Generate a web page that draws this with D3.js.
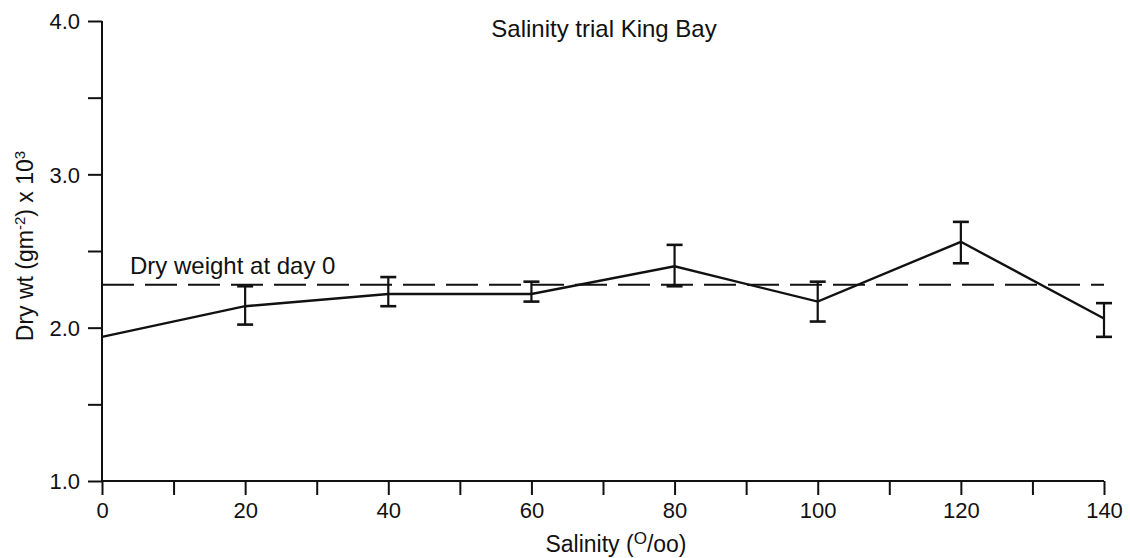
<!DOCTYPE html>
<html>
<script src="https://d3js.org/d3.v7.min.js"></script>
<body style="margin:0;background:white">
<div id="chart"></div>
<script>

// data
var salinity = [0, 20, 40, 60, 80, 100, 120, 140];
var dryWt   = [1.94, 2.14, 2.22, 2.22, 2.40, 2.17, 2.56, 2.06];
var errLow  = [null, 2.02, 2.14, 2.17, 2.27, 2.04, 2.42, 1.94];
var errHigh = [null, 2.27, 2.33, 2.30, 2.54, 2.30, 2.69, 2.16];
var dayZero = 2.28;
var xTicks = [0, 10, 20, 30, 40, 50, 60, 70, 80, 90, 100, 110, 120, 130, 140];
var xLabels = [0, 20, 40, 60, 80, 100, 120, 140];
var yTicks = [1.0, 1.5, 2.0, 2.5, 3.0, 3.5, 4.0];
var yLabels = [1.0, 2.0, 3.0, 4.0];

var width = 1130, height = 558;
var font = "'Liberation Sans', Arial, sans-serif";

var svg = d3.select("#chart").append("svg")
    .attr("width", width).attr("height", height)
    .style("display", "block");

var x = d3.scaleLinear().domain([0, 140]).range([102, 1104]);
var y = d3.scaleLinear().domain([1, 4]).range([481, 21]);

// axes
var xAxis = d3.axisBottom(x).tickValues(xTicks).tickSize(14)
    .tickFormat(function(d) { return xLabels.indexOf(d) >= 0 ? d : ""; });
var gx = svg.append("g").attr("transform", "translate(0," + y(1) + ")").call(xAxis);
gx.select(".domain").attr("stroke-width", 2).attr("d", "M" + x(0) + ",0H" + x(140));

var yAxis = d3.axisLeft(y).tickValues(yTicks).tickSize(14)
    .tickFormat(function(d) { return yLabels.indexOf(d) >= 0 ? d3.format(".1f")(d) : ""; });
var gy = svg.append("g").attr("transform", "translate(" + x(0) + ",0)").call(yAxis);
gy.select(".domain").attr("stroke-width", 2).attr("d", "M0," + y(4) + "V" + y(1));

svg.selectAll(".tick line").attr("stroke", "#111").attr("stroke-width", 2);
svg.selectAll(".tick text").attr("fill", "#111")
    .style("font-family", font).style("font-size", "22px");
gx.selectAll(".tick text").attr("dy", "0.91em");
gy.selectAll(".tick text").attr("dx", "-5").attr("dy", "0.36em");
svg.selectAll(".domain").attr("stroke", "#111");

// day 0 reference line
svg.append("line")
    .attr("x1", x(0)).attr("x2", x(140))
    .attr("y1", y(dayZero)).attr("y2", y(dayZero))
    .attr("stroke", "#111").attr("stroke-width", 2)
    .attr("stroke-dasharray", "32,11");

svg.append("text")
    .attr("x", 130).attr("y", y(dayZero) - 11)
    .style("font-family", font).style("font-size", "24px").attr("fill", "#111")
    .text("Dry weight at day 0");

// main line
var line = d3.line()
    .x(function(d, i) { return x(salinity[i]); })
    .y(function(d) { return y(d); });
svg.append("path").datum(dryWt)
    .attr("d", line).attr("fill", "none")
    .attr("stroke", "#111").attr("stroke-width", 2.4);

// error bars
var bars = salinity.map(function(s, i) { return {s: s, lo: errLow[i], hi: errHigh[i]}; })
    .filter(function(d) { return d.lo != null; });
var eb = svg.selectAll(".err").data(bars).enter().append("g").attr("class", "err");
eb.append("line")
    .attr("x1", function(d) { return x(d.s); }).attr("x2", function(d) { return x(d.s); })
    .attr("y1", function(d) { return y(d.lo); }).attr("y2", function(d) { return y(d.hi); })
    .attr("stroke", "#111").attr("stroke-width", 2.2);
["lo", "hi"].forEach(function(k) {
    eb.append("line")
        .attr("x1", function(d) { return x(d.s) - 8; }).attr("x2", function(d) { return x(d.s) + 8; })
        .attr("y1", function(d) { return y(d[k]); }).attr("y2", function(d) { return y(d[k]); })
        .attr("stroke", "#111").attr("stroke-width", 2.6);
});

// titles
svg.append("text")
    .attr("x", 604).attr("y", 37).attr("text-anchor", "middle")
    .style("font-family", font).style("font-size", "24px").attr("fill", "#111")
    .text("Salinity trial King Bay");

var xt = svg.append("text")
    .attr("x", 616).attr("y", 552).attr("text-anchor", "middle")
    .style("font-family", font).style("font-size", "23px").attr("fill", "#111");
xt.append("tspan").text("Salinity (");
xt.append("tspan").attr("dy", -8).style("font-size", "17px").text("O");
xt.append("tspan").attr("dy", 8).text("/oo)");

var yt = svg.append("text")
    .attr("transform", "translate(33,246) rotate(-90)").attr("text-anchor", "middle")
    .style("font-family", font).style("font-size", "23px").attr("fill", "#111");
yt.append("tspan").text("Dry wt (gm");
yt.append("tspan").attr("dy", -8).style("font-size", "15px").text("-2");
yt.append("tspan").attr("dy", 8).text(") x 10");
yt.append("tspan").attr("dy", -8).style("font-size", "15px").text("3");

</script>
</body>
</html>
